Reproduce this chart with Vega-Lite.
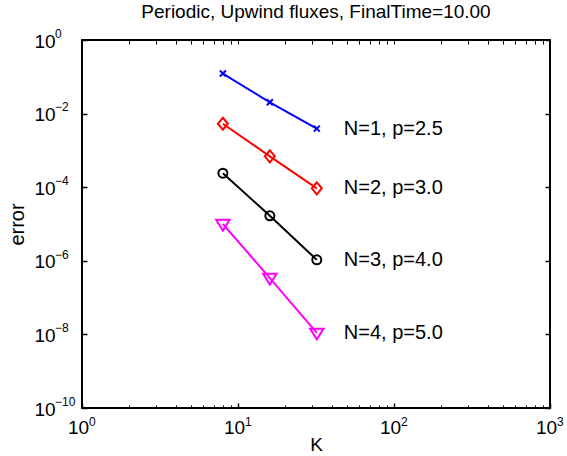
{
  "$schema": "https://vega.github.io/schema/vega-lite/v6.json",
  "width": 468,
  "height": 368,
  "autosize": "none",
  "padding": {"left": 82, "top": 40, "right": 17, "bottom": 48},
  "background": "white",
  "title": {"text": "Periodic, Upwind fluxes, FinalTime=10.00", "font": "Liberation Sans", "fontSize": 19, "fontWeight": "normal", "color": "black", "offset": 5},
  "config": {
    "view": {"stroke": "black", "strokeWidth": 2},
    "axis": {"labelFont": "Liberation Sans", "titleFont": "Liberation Sans", "labelColor": "black", "titleColor": "black", "tickColor": "black", "grid": false, "domain": false, "titleFontWeight": "normal", "labelOverlap": false, "labelFlush": false, "labelBound": false}
  },
  "datasets": {
    "pts": [
      {"series": "N=1", "K": 8, "error": 0.1226},
      {"series": "N=1", "K": 16, "error": 0.0203},
      {"series": "N=1", "K": 32, "error": 0.0039},
      {"series": "N=2", "K": 8, "error": 0.0053},
      {"series": "N=2", "K": 16, "error": 0.00069},
      {"series": "N=2", "K": 32, "error": 0.000093},
      {"series": "N=3", "K": 8, "error": 0.00024},
      {"series": "N=3", "K": 16, "error": 0.0000167},
      {"series": "N=3", "K": 32, "error": 0.00000106},
      {"series": "N=4", "K": 8, "error": 0.00001},
      {"series": "N=4", "K": 16, "error": 0.00000034},
      {"series": "N=4", "K": 32, "error": 0.000000011}
    ],
    "labels": [
      {"series": "N=1", "K": 32, "error": 0.0039, "label": "N=1, p=2.5"},
      {"series": "N=2", "K": 32, "error": 0.000093, "label": "N=2, p=3.0"},
      {"series": "N=3", "K": 32, "error": 0.00000106, "label": "N=3, p=4.0"},
      {"series": "N=4", "K": 32, "error": 0.000000011, "label": "N=4, p=5.0"}
    ]
  },
  "resolve": {"axis": {"x": "independent", "y": "independent"}},
  "layer": [
    {
      "data": {"name": "pts"},
      "mark": {"type": "line", "strokeWidth": 2},
      "encoding": {
        "x": {"field": "K", "type": "quantitative", "scale": {"type": "log", "domain": [1, 1000], "nice": false},
          "axis": {"orient": "bottom", "values": [1, 10, 100, 1000],
            "tickSize": -5, "tickWidth": 1.5,
            "labelExpr": "'10'",
            "labelFontSize": 19, "labelAlign": "center", "labelOffset": -4, "labelBaseline": "top", "labelPadding": 15, "title": "K", "titleFontSize": 19, "titlePadding": -2}},
        "y": {"field": "error", "type": "quantitative", "scale": {"type": "log", "domain": [1e-10, 1], "nice": false},
          "axis": {"orient": "left", "values": [1e-10, 1e-8, 1e-6, 1e-4, 1e-2, 1],
            "tickSize": -5, "tickWidth": 1.5,
            "labelExpr": "'10'",
            "labelFontSize": 19, "labelAlign": "left", "labelBaseline": "middle", "labelOffset": 1, "labelPadding": 53, "title": "error", "titleFontSize": 20, "titlePadding": 7}},
        "color": {"field": "series", "type": "nominal", "scale": {"domain": ["N=1", "N=2", "N=3", "N=4"], "range": ["#0000ff", "#ff0000", "#000000", "#ff00ff"]}, "legend": null}
      }
    },
    {
      "data": {"name": "pts"},
      "mark": {"type": "point", "filled": false, "strokeWidth": 2, "opacity": 1, "size": 100},
      "encoding": {
        "x": {"field": "K", "type": "quantitative", "scale": {"type": "log", "domain": [1, 1000], "nice": false},
          "axis": {"orient": "top", "values": [1,2,3,4,5,6,7,8,9,10,20,30,40,50,60,70,80,90,100,200,300,400,500,600,700,800,900,1000],
            "tickSize": -4, "tickWidth": 1, "labels": false, "title": null}},
        "y": {"field": "error", "type": "quantitative", "scale": {"type": "log", "domain": [1e-10, 1], "nice": false},
          "axis": {"orient": "right", "values": [1e-10, 1e-8, 1e-6, 1e-4, 1e-2, 1], "tickSize": -5, "tickWidth": 1.5, "labels": false, "title": null}},
        "color": {"field": "series", "type": "nominal", "scale": {"domain": ["N=1", "N=2", "N=3", "N=4"], "range": ["#0000ff", "#ff0000", "#000000", "#ff00ff"]}, "legend": null},
        "shape": {"field": "series", "type": "nominal", "scale": {"domain": ["N=1", "N=2", "N=3", "N=4"], "range": ["M-0.6,-0.6L0.6,0.6M-0.6,0.6L0.6,-0.6", "M0,-1.2L1,0L0,1.2L-1,0Z", "M-0.9,0A0.9,0.9 0 1,0 0.9,0A0.9,0.9 0 1,0 -0.9,0Z", "M-1.35,-0.85L1.35,-0.85L0,1.3Z"]}, "legend": null}
      }
    },
    {
      "data": {"name": "labels"},
      "mark": {"type": "text", "align": "left", "baseline": "middle", "dx": 27, "font": "Liberation Sans", "fontSize": 20, "color": "black"},
      "encoding": {
        "x": {"field": "K", "type": "quantitative", "scale": {"type": "log", "domain": [1, 1000], "nice": false},
          "axis": {"orient": "bottom", "values": [1,2,3,4,5,6,7,8,9,10,20,30,40,50,60,70,80,90,100,200,300,400,500,600,700,800,900,1000],
            "tickSize": -3, "tickWidth": 1,
            "labelExpr": "datum.value == 1 ? '0' : datum.value == 10 ? '1' : datum.value == 100 ? '2' : datum.value == 1000 ? '3' : ''",
            "labelFontSize": 12, "labelAlign": "left", "labelOffset": 6.5, "labelBaseline": "top", "labelPadding": 11, "title": null}},
        "y": {"field": "error", "type": "quantitative", "scale": {"type": "log", "domain": [1e-10, 1], "nice": false},
          "axis": {"orient": "left", "values": [1e-10, 1e-8, 1e-6, 1e-4, 1e-2, 1], "ticks": false,
            "labelExpr": "datum.value > 0.5 ? '0' : datum.value > 0.005 ? '−2' : datum.value > 0.00005 ? '−4' : datum.value > 0.0000005 ? '−6' : datum.value > 0.000000005 ? '−8' : '−10'",
            "labelFontSize": 12, "labelAlign": "left", "labelBaseline": "middle", "labelOffset": -6.7, "labelPadding": 27.5, "title": null}},
        "text": {"field": "label"}
      }
    }
  ]
}
